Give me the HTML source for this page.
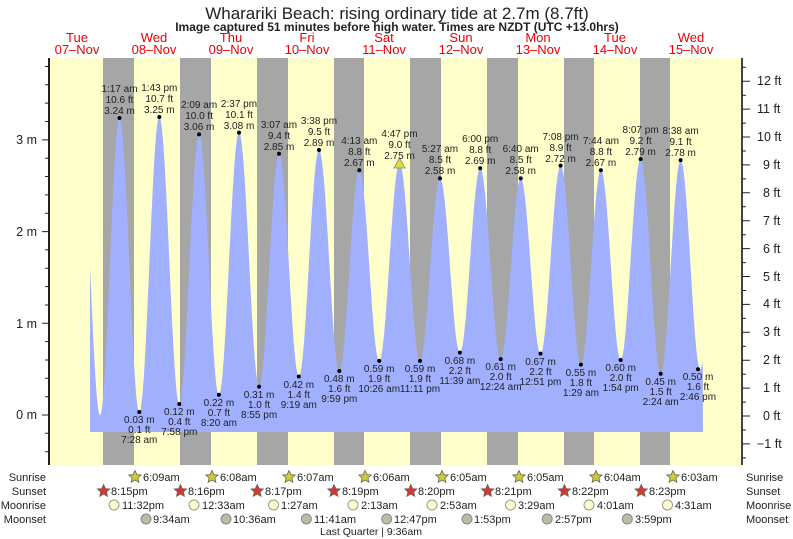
<!DOCTYPE html>
<html><head><meta charset="utf-8"><style>
html,body{margin:0;padding:0;background:#fff;width:793px;height:539px;overflow:hidden}
svg{display:block;font-family:"Liberation Sans",sans-serif}
.l{font-size:10px;fill:#222;text-anchor:middle}
.d{font-size:13px;fill:#e00;text-anchor:middle}
.b{font-size:11px;fill:#222}
.r{text-anchor:end}
</style></head><body>
<svg width="793" height="539" viewBox="0 0 793 539" xmlns="http://www.w3.org/2000/svg">
<text x="397" y="19" font-size="17" text-anchor="middle" fill="#222">Wharariki Beach: rising  ordinary tide at 2.7m (8.7ft)</text>
<text x="397" y="31" font-size="12" font-weight="bold" text-anchor="middle" fill="#222">Image captured 51 minutes before high water. Times are NZDT (UTC +13.0hrs)</text>
<g class="d">
<text x="77" y="42" class="d">Tue</text><text x="77" y="54" class="d">07–Nov</text>
<text x="154" y="42" class="d">Wed</text><text x="154" y="54" class="d">08–Nov</text>
<text x="231" y="42" class="d">Thu</text><text x="231" y="54" class="d">09–Nov</text>
<text x="307" y="42" class="d">Fri</text><text x="307" y="54" class="d">10–Nov</text>
<text x="384" y="42" class="d">Sat</text><text x="384" y="54" class="d">11–Nov</text>
<text x="461" y="42" class="d">Sun</text><text x="461" y="54" class="d">12–Nov</text>
<text x="538" y="42" class="d">Mon</text><text x="538" y="54" class="d">13–Nov</text>
<text x="615" y="42" class="d">Tue</text><text x="615" y="54" class="d">14–Nov</text>
<text x="691" y="42" class="d">Wed</text><text x="691" y="54" class="d">15–Nov</text>
</g>
<rect x="49" y="58" width="693" height="407" fill="#ffffcc"/>
<g fill="#a6a6a6">
<rect x="103" y="58" width="31" height="407"/><rect x="180" y="58" width="31" height="407"/>
<rect x="257" y="58" width="31" height="407"/><rect x="334" y="58" width="30" height="407"/>
<rect x="410" y="58" width="31" height="407"/><rect x="487" y="58" width="31" height="407"/>
<rect x="564" y="58" width="30" height="407"/><rect x="640" y="58" width="30" height="407"/>
</g>
<path id="tide" fill="#a0b0ff" d=""/>
<g fill="#000">
<circle cx="119.5" cy="118" r="2"/><circle cx="139.3" cy="412" r="2"/><circle cx="159.3" cy="117" r="2"/><circle cx="179.3" cy="404" r="2"/>
<circle cx="199.1" cy="134.4" r="2"/><circle cx="218.9" cy="394.8" r="2"/><circle cx="239" cy="132.6" r="2"/><circle cx="259.1" cy="386.6" r="2"/>
<circle cx="279" cy="153.7" r="2"/><circle cx="298.8" cy="376.5" r="2"/><circle cx="319" cy="150" r="2"/><circle cx="339.3" cy="371" r="2"/>
<circle cx="359.3" cy="170.2" r="2"/><circle cx="379.2" cy="360.9" r="2"/><circle cx="420" cy="360.9" r="2"/>
<circle cx="440" cy="178.4" r="2"/><circle cx="459.9" cy="352.6" r="2"/><circle cx="480.2" cy="168.3" r="2"/><circle cx="500.7" cy="359.1" r="2"/>
<circle cx="520.7" cy="178.4" r="2"/><circle cx="540.5" cy="353.6" r="2"/><circle cx="560.6" cy="165.6" r="2"/><circle cx="580.9" cy="364.6" r="2"/>
<circle cx="600.9" cy="170.2" r="2"/><circle cx="620.7" cy="360" r="2"/><circle cx="640.6" cy="159.1" r="2"/><circle cx="660.7" cy="373.7" r="2"/>
<circle cx="680.6" cy="160.1" r="2"/><circle cx="698" cy="369.2" r="2"/>
</g>
<polygon points="399.5,158 394,168 405,168" fill="#dddd33" stroke="#888" stroke-width="0.8"/>
<g class="l">
<text x="119.5" y="92">1:17 am</text><text x="119.5" y="103">10.6 ft</text><text x="119.5" y="114">3.24 m</text>
<text x="159.3" y="91">1:43 pm</text><text x="159.3" y="102">10.7 ft</text><text x="159.3" y="113">3.25 m</text>
<text x="199.1" y="108">2:09 am</text><text x="199.1" y="119">10.0 ft</text><text x="199.1" y="130">3.06 m</text>
<text x="239" y="107">2:37 pm</text><text x="239" y="118">10.1 ft</text><text x="239" y="129">3.08 m</text>
<text x="279" y="128">3:07 am</text><text x="279" y="139">9.4 ft</text><text x="279" y="150">2.85 m</text>
<text x="319" y="124">3:38 pm</text><text x="319" y="135">9.5 ft</text><text x="319" y="146">2.89 m</text>
<text x="359.3" y="144">4:13 am</text><text x="359.3" y="155">8.8 ft</text><text x="359.3" y="166">2.67 m</text>
<text x="399.5" y="137">4:47 pm</text><text x="399.5" y="148">9.0 ft</text><text x="399.5" y="159">2.75 m</text>
<text x="440" y="152">5:27 am</text><text x="440" y="163">8.5 ft</text><text x="440" y="174">2.58 m</text>
<text x="480.2" y="142">6:00 pm</text><text x="480.2" y="153">8.8 ft</text><text x="480.2" y="164">2.69 m</text>
<text x="520.7" y="152">6:40 am</text><text x="520.7" y="163">8.5 ft</text><text x="520.7" y="174">2.58 m</text>
<text x="560.6" y="140">7:08 pm</text><text x="560.6" y="151">8.9 ft</text><text x="560.6" y="162">2.72 m</text>
<text x="600.9" y="144">7:44 am</text><text x="600.9" y="155">8.8 ft</text><text x="600.9" y="166">2.67 m</text>
<text x="640.6" y="133">8:07 pm</text><text x="640.6" y="144">9.2 ft</text><text x="640.6" y="155">2.79 m</text>
<text x="680.6" y="134">8:38 am</text><text x="680.6" y="145">9.1 ft</text><text x="680.6" y="156">2.78 m</text>

<text x="139.3" y="423">0.03 m</text><text x="139.3" y="433">0.1 ft</text><text x="139.3" y="443">7:28 am</text>
<text x="179.3" y="415">0.12 m</text><text x="179.3" y="425">0.4 ft</text><text x="179.3" y="435">7:58 pm</text>
<text x="218.9" y="406">0.22 m</text><text x="218.9" y="416">0.7 ft</text><text x="218.9" y="426">8:20 am</text>
<text x="259.1" y="398">0.31 m</text><text x="259.1" y="408">1.0 ft</text><text x="259.1" y="418">8:55 pm</text>
<text x="298.8" y="388">0.42 m</text><text x="298.8" y="398">1.4 ft</text><text x="298.8" y="408">9:19 am</text>
<text x="339.3" y="382">0.48 m</text><text x="339.3" y="392">1.6 ft</text><text x="339.3" y="402">9:59 pm</text>
<text x="379.2" y="372">0.59 m</text><text x="379.2" y="382">1.9 ft</text><text x="379.2" y="392">10:26 am</text>
<text x="420" y="372">0.59 m</text><text x="420" y="382">1.9 ft</text><text x="420" y="392">11:11 pm</text>
<text x="459.9" y="364">0.68 m</text><text x="459.9" y="374">2.2 ft</text><text x="459.9" y="384">11:39 am</text>
<text x="500.7" y="370">0.61 m</text><text x="500.7" y="380">2.0 ft</text><text x="500.7" y="390">12:24 am</text>
<text x="540.5" y="365">0.67 m</text><text x="540.5" y="375">2.2 ft</text><text x="540.5" y="385">12:51 pm</text>
<text x="580.9" y="376">0.55 m</text><text x="580.9" y="386">1.8 ft</text><text x="580.9" y="396">1:29 am</text>
<text x="620.7" y="371">0.60 m</text><text x="620.7" y="381">2.0 ft</text><text x="620.7" y="391">1:54 pm</text>
<text x="660.7" y="385">0.45 m</text><text x="660.7" y="395">1.5 ft</text><text x="660.7" y="405">2:24 am</text>
<text x="698" y="380">0.50 m</text><text x="698" y="390">1.6 ft</text><text x="698" y="400">2:46 pm</text>
</g>
<line x1="49" y1="58" x2="49" y2="465" stroke="#222" stroke-width="2"/>
<line x1="742" y1="58" x2="742" y2="465" stroke="#444" stroke-width="2"/>
<g stroke="#222" stroke-width="1">
<path d="M45,66.5H49M45,84.8H49M45,103.1H49M45,121.5H49M42,139.9H49M45,158.2H49M45,176.5H49M45,194.9H49M45,213.2H49M42,231.6H49M45,249.9H49M45,268.3H49M45,286.6H49M45,305H49M42,323.3H49M45,341.6H49M45,360H49M45,378.3H49M45,396.7H49M42,415H49M45,433.3H49M45,451.7H49"/>
<path d="M742,81.2H750M742,109.1H750M742,137H750M742,164.9H750M742,192.8H750M742,220.7H750M742,248.6H750M742,276.5H750M742,304.4H750M742,332.3H750M742,360.2H750M742,388.1H750M742,416H750M742,443.9H750M742,67.2H746M742,95.2H746M742,123.1H746M742,151H746M742,178.9H746M742,206.8H746M742,234.7H746M742,262.6H746M742,290.5H746M742,318.4H746M742,346.3H746M742,374.2H746M742,402.1H746M742,430H746M742,457.9H746"/>
</g>
<g font-size="12.5" fill="#222" text-anchor="end">
<text x="37" y="144">3 m</text><text x="37" y="236">2 m</text><text x="37" y="328">1 m</text><text x="37" y="419">0 m</text>
</g>
<g font-size="12.5" fill="#222">
<text x="757" y="85">12 ft</text><text x="757" y="113">11 ft</text><text x="757" y="141">10 ft</text><text x="763" y="169">9 ft</text>
<text x="763" y="197">8 ft</text><text x="763" y="225">7 ft</text><text x="763" y="253">6 ft</text><text x="763" y="281">5 ft</text>
<text x="763" y="308">4 ft</text><text x="763" y="336">3 ft</text><text x="763" y="364">2 ft</text><text x="763" y="392">1 ft</text>
<text x="763" y="420">0 ft</text><text x="757" y="448">−1 ft</text>
</g>
<g class="b">
<text x="46" y="481" class="b r">Sunrise</text><text x="46" y="495" class="b r">Sunset</text>
<text x="46" y="509" class="b r">Moonrise</text><text x="46" y="523" class="b r">Moonset</text>
<text x="746" y="481">Sunrise</text><text x="746" y="495">Sunset</text><text x="746" y="509">Moonrise</text><text x="746" y="523">Moonset</text>
</g>
<defs>
<polygon id="st" points="0,-6.5 1.9,-2.3 6.2,-2 2.9,1 3.9,5.3 0,3 -3.9,5.3 -2.9,1 -6.2,-2 -1.9,-2.3" stroke="#665" stroke-width="0.8"/>
</defs>
<g fill="#cccc33">
<use href="#st" x="135" y="477"/><use href="#st" x="212" y="477"/><use href="#st" x="289" y="477"/><use href="#st" x="365" y="477"/>
<use href="#st" x="442" y="477"/><use href="#st" x="519" y="477"/><use href="#st" x="596" y="477"/><use href="#st" x="673" y="477"/>
</g>
<g fill="#dd3333">
<use href="#st" x="103.6" y="491"/><use href="#st" x="180.4" y="491"/><use href="#st" x="257.2" y="491"/><use href="#st" x="334" y="491"/>
<use href="#st" x="410.8" y="491"/><use href="#st" x="487.6" y="491"/><use href="#st" x="564.4" y="491"/><use href="#st" x="641.2" y="491"/>
</g>
<g class="b">
<text x="143" y="481">6:09am</text><text x="220" y="481">6:08am</text><text x="297" y="481">6:07am</text><text x="373" y="481">6:06am</text>
<text x="450" y="481">6:05am</text><text x="527" y="481">6:05am</text><text x="604" y="481">6:04am</text><text x="681" y="481">6:03am</text>
<text x="111" y="495">8:15pm</text><text x="188" y="495">8:16pm</text><text x="265" y="495">8:17pm</text><text x="342" y="495">8:19pm</text>
<text x="418" y="495">8:20pm</text><text x="495" y="495">8:21pm</text><text x="572" y="495">8:22pm</text><text x="649" y="495">8:23pm</text>
</g>
<g fill="#ffffcc" stroke="#999" stroke-width="1">
<circle cx="114" cy="505" r="5"/><circle cx="194" cy="505" r="5"/><circle cx="273.6" cy="505" r="5"/><circle cx="353" cy="505" r="5"/>
<circle cx="432" cy="505" r="5"/><circle cx="510.5" cy="505" r="5"/><circle cx="589" cy="505" r="5"/><circle cx="667.5" cy="505" r="5"/>
</g>
<g fill="#bbbbaa" stroke="#888" stroke-width="1">
<circle cx="146" cy="519" r="5"/><circle cx="226" cy="519" r="5"/><circle cx="306.4" cy="519" r="5"/><circle cx="386.7" cy="519" r="5"/>
<circle cx="467" cy="519" r="5"/><circle cx="547.2" cy="519" r="5"/><circle cx="627.3" cy="519" r="5"/>
</g>
<g class="b">
<text x="122" y="509">11:32pm</text><text x="202" y="509">12:33am</text><text x="281" y="509">1:27am</text><text x="361" y="509">2:13am</text>
<text x="440" y="509">2:53am</text><text x="518" y="509">3:29am</text><text x="597" y="509">4:01am</text><text x="675" y="509">4:31am</text>
<text x="153" y="523">9:34am</text><text x="233" y="523">10:36am</text><text x="314" y="523">11:41am</text><text x="394" y="523">12:47pm</text>
<text x="474" y="523">1:53pm</text><text x="555" y="523">2:57pm</text><text x="635" y="523">3:59pm</text>
</g>
<text x="320" y="535" font-size="10.5" fill="#222">Last Quarter | 9:36am</text>
</svg>
<script>
(function(){
var E=[[13,3.2],[19.2,0.0],[25.28,3.24],[31.47,0.03],[37.72,3.25],[43.97,0.12],[50.15,3.06],[56.33,0.22],[62.62,3.08],[68.92,0.31],[75.12,2.85],[81.32,0.42],[87.63,2.89],[93.98,0.48],[100.22,2.67],[106.43,0.59],[112.78,2.75],[119.18,0.59],[125.45,2.58],[131.65,0.68],[138,2.69],[144.4,0.61],[150.67,2.58],[156.85,0.67],[163.13,2.72],[169.48,0.55],[175.73,2.67],[181.9,0.60],[188.12,2.79],[194.4,0.45],[200.63,2.78],[206.77,0.50],[213,2.8]];
function X(h){return 38.6+h*3.2} function Y(m){return 415-m*91.7}
var h0=16.06,h1=207.6,d="M"+X(h0).toFixed(1)+",432";
for(var h=h0;h<=h1+0.001;h+=0.1){var i=0;while(E[i+1][0]<h)i++;var a=E[i],b=E[i+1];var f=(h-a[0])/(b[0]-a[0]);var m=a[1]+(b[1]-a[1])*(1-Math.cos(Math.PI*f))/2;d+=" L"+X(h).toFixed(1)+","+Y(m).toFixed(1);}
d+=" L"+X(h1).toFixed(1)+",432 Z";document.getElementById("tide").setAttribute("d",d);})();
</script>
</body></html>
